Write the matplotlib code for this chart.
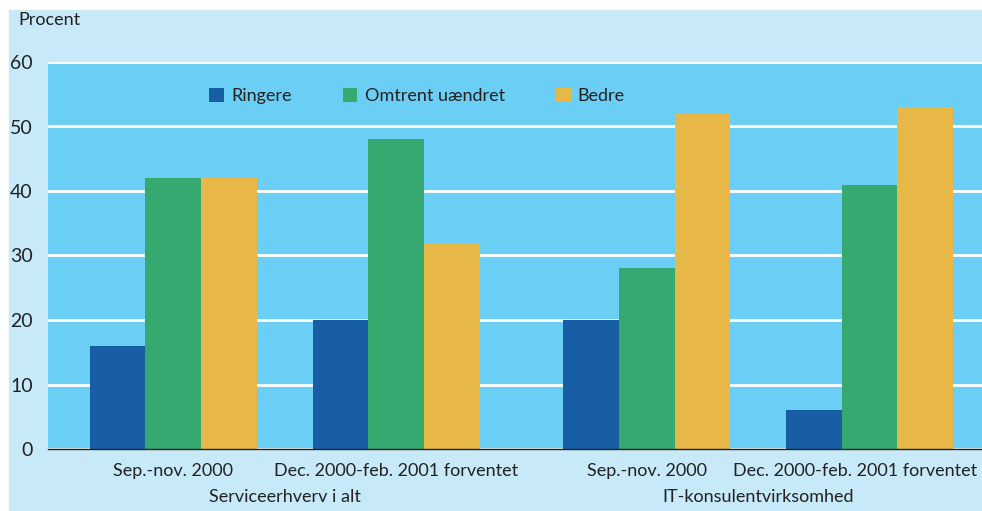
import matplotlib
matplotlib.use('Agg')
import matplotlib.pyplot as plt
import matplotlib.transforms as mtransforms
from matplotlib.patches import Rectangle
import numpy as np

# data
periods = ["Sep.-nov. 2000", "Dec. 2000-feb. 2001 forventet",
           "Sep.-nov. 2000", "Dec. 2000-feb. 2001 forventet"]
sectors = ["Serviceerhverv i alt", "IT-konsulentvirksomhed"]
series_names = ["Ringere", "Omtrent uændret", "Bedre"]
ringere = [16, 20, 20, 6]
omtrent = [42, 48, 28, 41]
bedre = [42, 32, 52, 53]
yticks = [0, 10, 20, 30, 40, 50, 60]

colors = ["#175ea4", "#36a970", "#e7b748"]
plot_bg = "#6bcef5"
outer_bg = "#c7e9f8"

plt.rcParams['font.family'] = ['Lato', 'DejaVu Sans']

W, H = 982, 511
fig = plt.figure(figsize=(W / 100, H / 100), dpi=100)
fig.patch.set_facecolor("white")
fig.add_artist(Rectangle((9 / W, 0), 1 - 9 / W, (H - 10) / H,
                         transform=fig.transFigure, color=outer_bg, zorder=0))

ax = fig.add_axes([48 / W, (H - 449) / H, 1 - 48 / W, (449 - 62) / H])
ax.set_facecolor(plot_bg)

centers = np.array([2.25, 6.25, 10.75, 14.75])
width = 1.0
for i, (vals, name) in enumerate(zip([ringere, omtrent, bedre], series_names)):
    ax.bar(centers + (i - 1) * width, vals, width=width, color=colors[i],
           label=name, zorder=3)

ax.set_xlim(0, 16.77)
ax.set_ylim(0, 60)
ax.set_yticks(yticks)
ax.yaxis.grid(True, color="white", linewidth=2, zorder=1)
ax.set_axisbelow(True)
for s in ["top", "right", "left"]:
    ax.spines[s].set_visible(False)
ax.spines["bottom"].set_color("#222222")
ax.spines["bottom"].set_linewidth(1.0)
ax.spines["bottom"].set_zorder(4)
ax.tick_params(axis="y", length=0, pad=11, labelsize=14, labelcolor="#222222")
ax.set_xticks(centers)
ax.set_xticklabels(periods, fontsize=13, color="#222222")
ax.tick_params(axis="x", length=0, pad=10)

# last period label sits a little left so it stays inside the figure
last = ax.get_xticklabels()[-1]
last.set_transform(last.get_transform() + mtransforms.ScaledTranslation(-14 / 100, 0, fig.dpi_scale_trans))

# sector labels
for k, sec in enumerate(sectors):
    xc = (centers[2 * k] + centers[2 * k + 1]) / 2
    ax.text(xc, -7.5, sec, ha="center", va="center", fontsize=13,
            color="#222222", transform=ax.transData)

fig.text(18 / W, 1 - 20 / H, "Procent", ha="left", va="center",
         fontsize=13, color="#222222")

ax.legend(loc="center left", bbox_to_anchor=((193 - 48) / (W - 48), 1 - (96 - 62) / (449 - 62)),
          ncol=3, frameon=False, fontsize=13, handlelength=0.8, handleheight=0.8,
          handletextpad=0.4, columnspacing=2.85, labelcolor="#222222")

fig.savefig("out.png", dpi=100, facecolor=fig.get_facecolor())
